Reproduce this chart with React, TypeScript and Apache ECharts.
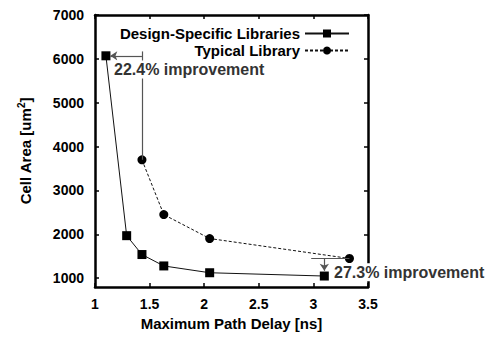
import React, { useEffect, useRef } from "react";
import * as echarts from "echarts";

const delayDesign = [1.1, 1.29, 1.43, 1.63, 2.05, 3.1];
const areaDesign = [6070, 1970, 1540, 1280, 1125, 1050];
const delayTypical = [1.43, 1.63, 2.05, 3.33];
const areaTypical = [3700, 2450, 1905, 1450];
const xTicks = [1, 1.5, 2, 2.5, 3, 3.5];
const yTicks = [1000, 2000, 3000, 4000, 5000, 6000, 7000];
const seriesNames = ["Design-Specific Libraries", "Typical Library"];
const note1 = "22.4% improvement";
const note2 = "27.3% improvement";

const FONT = "'Liberation Sans', Arial, sans-serif";

export default function App() {
  const ref = useRef<HTMLDivElement>(null);
  useEffect(() => {
    const chart = echarts.init(ref.current!, null, { renderer: "svg" });
    const tickStyle = { show: true, inside: true, length: 4, lineStyle: { color: "#000", width: 1.5 } };
    const axisLine = { show: true, lineStyle: { color: "#000", width: 2.5 } };
    const labelStyle = { fontFamily: FONT, fontWeight: "bold" as const, fontSize: 14, color: "#000", formatter: (v: number) => String(v) };
    const annotColor = "#555";
    chart.setOption({
      animation: false,
      grid: { left: 95, right: 126, top: 15, bottom: 53 },
      xAxis: [
        {
          type: "value", min: 1, max: 3.5, interval: 0.5, position: "bottom",
          axisLine, axisTick: tickStyle, splitLine: { show: false },
          axisLabel: { ...labelStyle, margin: 10, customValues: xTicks },
          name: "Maximum Path Delay [ns]", nameLocation: "middle", nameGap: 26,
          nameTextStyle: { fontFamily: FONT, fontWeight: "bold", fontSize: 15, color: "#000", verticalAlign: "top" },
        },
        {
          type: "value", min: 1, max: 3.5, interval: 0.5, position: "top",
          axisLine, axisTick: tickStyle, splitLine: { show: false }, axisLabel: { show: false },
        },
      ],
      yAxis: [
        {
          type: "value", min: 800, max: 7000, position: "left",
          axisLine, splitLine: { show: false },
          axisTick: { ...tickStyle, customValues: yTicks },
          axisLabel: { ...labelStyle, margin: 11, customValues: yTicks },
          name: "Cell Area [um{sup|2}]", nameLocation: "middle", nameGap: 61, nameRotate: 90,
          nameTextStyle: {
            fontFamily: FONT, fontWeight: "bold", fontSize: 15, color: "#000",
            rich: { sup: { fontFamily: FONT, fontWeight: "bold", fontSize: 10, color: "#000", verticalAlign: "bottom", padding: [0, 0, 8, 0] } },
          },
        },
        {
          type: "value", min: 800, max: 7000, position: "right",
          axisLine, splitLine: { show: false },
          axisTick: { ...tickStyle, customValues: yTicks },
          axisLabel: { show: false },
        },
      ],
      legend: [
        {
          data: [seriesNames[0]], right: 139, top: 21, align: "right", itemWidth: 44, itemHeight: 10,
          textStyle: { fontFamily: FONT, fontWeight: "bold", fontSize: 15, color: "#000" },
        },
        {
          data: [seriesNames[1]], right: 139, top: 38, align: "right", itemWidth: 44, itemHeight: 10,
          textStyle: { fontFamily: FONT, fontWeight: "bold", fontSize: 15, color: "#000" },
        },
      ],
      series: [
        {
          name: seriesNames[1], type: "line", z: 2,
          data: delayTypical.map((x, i) => [x, areaTypical[i]]),
          symbol: "circle", symbolSize: 9,
          itemStyle: { color: "#000" },
          lineStyle: { color: "#111", width: 1, type: [3, 2] },
          markLine: {
            silent: true, symbol: ["none", "none"], symbolSize: 7,
            label: { show: false },
            lineStyle: { color: annotColor, width: 1.2, type: "solid" },
            data: [
              [{ coord: [delayTypical[0], areaTypical[0]] }, { coord: [delayTypical[0], 6170] }],
              [{ coord: [delayTypical[0], areaDesign[0]] }, { coord: [1.14, areaDesign[0]], symbol: "arrow" }],
              [{ coord: [2.98, areaTypical[3]] }, { coord: [delayTypical[3], areaTypical[3]] }],
              [{ coord: [delayDesign[5], areaTypical[3]] }, { coord: [delayDesign[5], 1170], symbol: "arrow" }],
            ],
          },
        },
        {
          name: seriesNames[0], type: "line", z: 3,
          data: delayDesign.map((x, i) => [x, areaDesign[i]]),
          symbol: "rect", symbolSize: 9,
          itemStyle: { color: "#000" },
          lineStyle: { color: "#111", width: 1 },
          markPoint: {
            silent: true, symbol: "rect", symbolSize: 0,
            itemStyle: { color: "transparent" },
            label: {
              show: true, position: "right", distance: 0,
              fontFamily: FONT, fontWeight: "bold", fontSize: 16, color: "#333",
              backgroundColor: "#fff", padding: [1, 1],
              formatter: (p: any) => p.name,
            },
            data: [
              { name: note1, coord: [1.165, 5760] },
              { name: note2, coord: [3.18, 1136] },
            ],
          },
        },
      ],
    });
    return () => chart.dispose();
  }, []);
  return <div ref={ref} style={{ width: 494, height: 340, margin: -8 }} />;
}
